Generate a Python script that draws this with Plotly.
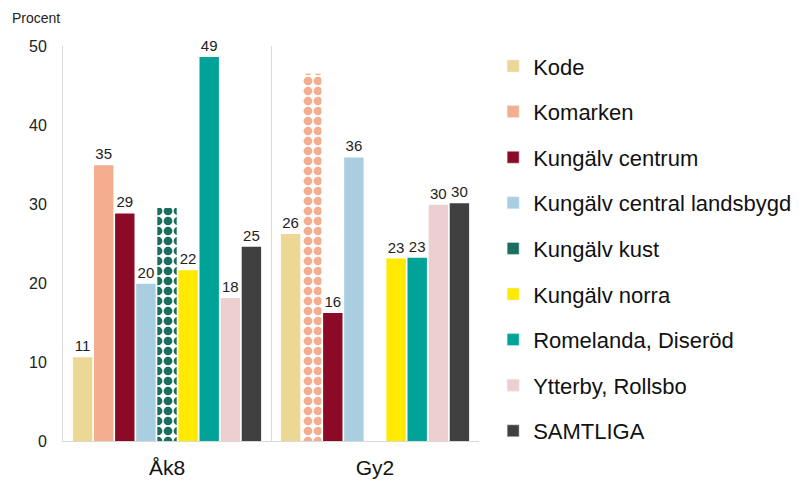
import plotly.graph_objects as go

groups = ["Åk8", "Gy2"]

areas = ["Kode", "Komarken", "Kungälv centrum", "Kungälv central landsbygd",
         "Kungälv kust", "Kungälv norra", "Romelanda, Diseröd",
         "Ytterby, Rollsbo", "SAMTLIGA"]

colors = ["#EDD795", "#F5AD8F", "#8B0A26", "#A9CEE0", "#1B6E5E",
          "#FFE900", "#00A398", "#EDCFD0", "#404040"]

# values per area: [Åk8, Gy2]; None = no bar
values = [
    [10.6, 26.2],
    [34.9, 46.5],
    [28.8, 16.2],
    [19.9, 35.9],
    [29.5, None],
    [21.6, 23.1],
    [48.6, 23.2],
    [18.1, 29.9],
    [24.6, 30.1],
]

# bars with too few answers: drawn dotted, no label
uncertain = [
    [False, False],
    [False, True],
    [False, False],
    [False, False],
    [True, False],
    [False, False],
    [False, False],
    [False, False],
    [False, False],
]

fig = go.Figure()
for name, col, vals, unc in zip(areas, colors, values, uncertain):
    labels = ["" if (v is None or u) else f"{round(v):.0f}" for v, u in zip(vals, unc)]
    fig.add_trace(go.Bar(
        x=groups, y=vals, name=name, text=labels,
        textposition="outside", cliponaxis=False, constraintext="none",
        textfont=dict(size=15, color="#222222"),
        showlegend=False,
        marker=dict(
            color=col, line=dict(width=0),
            pattern=dict(shape=[("." if u else "") for u in unc], fillmode="replace",
                         fgcolor=col, bgcolor="white", size=10, solidity=0.6),
        ),
        hovertemplate="%{x}: %{y}<extra>" + name + "</extra>",
    ))

# legend entries with plain colour swatches (on a hidden axis pair)
for name, col in zip(areas, colors):
    fig.add_trace(go.Bar(
        x=[None], y=[None], name=name, marker=dict(color=col),
        legendgroup=name, xaxis="x2", yaxis="y2",
    ))

# page body adds an 8px offset, so the figure is 8px smaller
fig.update_layout(
    width=795, height=474,
    barmode="group", bargap=0.087, bargroupgap=0.08,
    plot_bgcolor="white", paper_bgcolor="white",
    font=dict(family="Liberation Sans, Arial, sans-serif", color="#222222"),
    margin=dict(l=55, r=324, t=38, b=41, autoexpand=False),
    legend=dict(x=1.034, y=1.002, xanchor="left", yanchor="top",
                font=dict(size=22, color="#111111"), maxheight=480,
                tracegroupgap=14, traceorder="grouped"),
    xaxis=dict(showline=True, linecolor="#D9D9D9", linewidth=1,
               tickson="boundaries", showgrid=True, gridcolor="#D9D9D9",
               ticks="", tickfont=dict(size=21, color="#111111"),
               ticklabelstandoff=8),
    yaxis=dict(range=[0, 50], dtick=10, showline=True, linecolor="#D9D9D9",
               showgrid=False, zeroline=False, ticks="",
               tickfont=dict(size=16, color="#222222"), ticklabelstandoff=12),
    xaxis2=dict(visible=False, overlaying="x", anchor="y2"),
    yaxis2=dict(visible=False, overlaying="y", anchor="x2"),
)
fig.add_annotation(text="Procent", xref="paper", yref="paper",
                   x=-53 / 416, y=1 + 28 / 395, xanchor="left", yanchor="middle",
                   showarrow=False, font=dict(size=14, color="#222222"))

fig.write_html("out.html")
